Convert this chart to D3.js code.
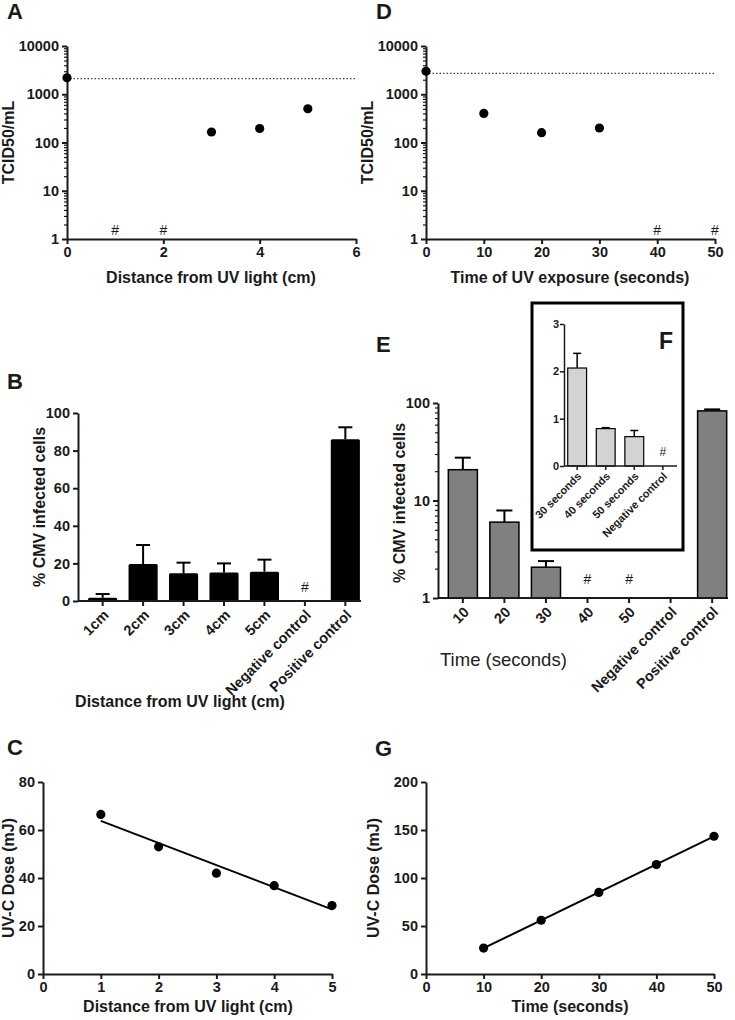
<!DOCTYPE html>
<html><head><meta charset="utf-8">
<script src="https://cdn.jsdelivr.net/npm/d3@7"></script>
<style>
body{margin:0;background:#fff;}
svg{display:block;font-family:"Liberation Sans",Arial,sans-serif;}
</style></head>
<body><svg id="c" width="735" height="1020"></svg>
<script>
// ---------- DATA ----------
// Panel A
const distA = [0, 3, 4, 5];
const tcidA = [2200, 165, 195, 500];
const hashA = [1, 2];
const limitA = 2100;
const xTicksA = [0, 2, 4, 6];
// Panel D
const timeD = [0, 10, 20, 30];
const tcidD = [3000, 400, 160, 200];
const hashD = [40, 50];
const limitD = 2700;
const xTicksD = [0, 10, 20, 30, 40, 50];
const logTicks = [1, 10, 100, 1000, 10000];
// Panel B
const catsB = ["1cm", "2cm", "3cm", "4cm", "5cm", "Negative control", "Positive control"];
const meanB = [1.7, 19.7, 14.7, 15.1, 15.6, 0.4, 86];
const errTopB = [3.7, 29.8, 20.4, 20, 22, 0.4, 92.4];
const hashB = ["Negative control"];
const yTicksB = [0, 20, 40, 60, 80, 100];
// Panel E
const catsE = ["10", "20", "30", "40", "50", "Negative control", "Positive control"];
const meanE = [20.7, 6.0, 2.07, null, null, null, 83];
const errTopE = [27.5, 7.9, 2.39, null, null, null, 86];
const hashE = ["40", "50"];
const yTicksE = [1, 10, 100];
// Panel F (inset)
const catsF = ["30 seconds", "40 seconds", "50 seconds", "Negative control"];
const meanF = [2.07, 0.79, 0.62, null];
const errTopF = [2.38, 0.81, 0.75, null];
const hashF = ["Negative control"];
const yTicksF = [0, 1, 2, 3];
// Panel C
const distC = [1, 2, 3, 4, 5];
const doseC = [66.5, 53, 42, 36.8, 28.5];
const xTicksC = [0, 1, 2, 3, 4, 5];
const yTicksC = [0, 20, 40, 60, 80];
// Panel G
const timeG = [10, 20, 30, 40, 50];
const doseG = [27, 56, 85, 114, 143.5];
const xTicksG = [0, 10, 20, 30, 40, 50];
const yTicksG = [0, 50, 100, 150, 200];

// ---------- HELPERS ----------
const svg = d3.select("#c");
const INK = "#1a1a1a";
const TICKFS = "14.5px";
const TITLEFS = "16px";
const fmt = d3.format("d");

function styleAxis(g, fs) {
  g.select(".domain").attr("stroke", INK).attr("stroke-width", 2);
  g.selectAll(".tick line").attr("stroke", INK).attr("stroke-width", 2);
  g.selectAll(".tick text").attr("fill", INK).attr("font-size", fs || TICKFS)
    .attr("font-weight", "bold").attr("font-family", "'Liberation Sans',Arial,sans-serif");
}
function letter(t, x, y, fs) {
  svg.append("text").attr("x", x).attr("y", y).text(t)
    .attr("font-size", fs || "22px").attr("font-weight", "bold").attr("fill", INK);
}
function yTitle(t, x, cy) {
  svg.append("text").attr("transform", `translate(${x},${cy}) rotate(-90)`)
    .attr("text-anchor", "middle").attr("font-size", TITLEFS).attr("font-weight", "bold")
    .attr("fill", INK).text(t);
}
function xTitle(t, cx, y) {
  svg.append("text").attr("x", cx).attr("y", y).attr("text-anchor", "middle")
    .attr("font-size", TITLEFS).attr("font-weight", "bold").attr("fill", INK).text(t);
}
function minorLog(y, x0, lo, hi) {
  const minors = [];
  for (let d = lo; d < hi; d *= 10) for (let k = 2; k <= 9; k++) minors.push(d * k);
  const g = svg.append("g").attr("transform", `translate(${x0},0)`)
    .call(d3.axisLeft(y).tickValues(minors).tickSize(3).tickFormat(""));
  g.select(".domain").remove();
  g.selectAll(".tick line").attr("stroke", INK).attr("stroke-width", 1.2);
}

// ---------- PANEL A / D (log scatter) ----------
function logScatter(xDom, xRange, xTicks, xs, vals, hashes, limit, titleX, cxTitle, yTitleX) {
  const x = d3.scaleLinear().domain(xDom).range(xRange);
  const y = d3.scaleLog().domain([1, 10000]).range([239, 46]);
  minorLog(y, xRange[0], 1, 10000);
  const gy = svg.append("g").attr("transform", `translate(${xRange[0]},0)`)
    .call(d3.axisLeft(y).tickValues(logTicks).tickFormat(fmt).tickSize(5).tickSizeOuter(0));
  styleAxis(gy);
  const gx = svg.append("g").attr("transform", `translate(0,${y(1)})`)
    .call(d3.axisBottom(x).tickValues(xTicks).tickFormat(fmt).tickSize(5).tickSizeOuter(0));
  styleAxis(gx);
  svg.append("line").attr("x1", xRange[0] + 3).attr("x2", xRange[1])
    .attr("y1", y(limit)).attr("y2", y(limit))
    .attr("stroke", "#444").attr("stroke-width", 1.2).attr("stroke-dasharray", "1.5,2");
  svg.selectAll(null).data(xs).enter().append("circle")
    .attr("cx", (d) => x(d)).attr("cy", (d, i) => y(vals[i])).attr("r", 4.6).attr("fill", "#000");
  svg.selectAll(null).data(hashes).enter().append("text")
    .attr("x", (d) => x(d)).attr("y", y(1) - 4).attr("text-anchor", "middle")
    .attr("font-size", "14px").attr("fill", INK).text("#");
  xTitle(titleX, cxTitle, 283);
  yTitle("TCID50/mL", yTitleX, y(100));
}
letter("A", 7, 19);
logScatter([0, 6], [67, 356], xTicksA, distA, tcidA, hashA, limitA, "Distance from UV light (cm)", 211, 14);
letter("D", 376, 19);
logScatter([0, 50], [426, 715], xTicksD, timeD, tcidD, hashD, limitD, "Time of UV exposure (seconds)", 570, 373);

// ---------- PANEL B ----------
(function () {
  letter("B", 7, 389);
  const x = d3.scaleBand().domain(catsB).range([80, 368]).paddingInner(0.28).paddingOuter(0.2);
  const y = d3.scaleLinear().domain([0, 100]).range([601, 413]);
  const gy = svg.append("g").attr("transform", "translate(78,0)")
    .call(d3.axisLeft(y).tickValues(yTicksB).tickFormat(fmt).tickSize(5).tickSizeOuter(0));
  styleAxis(gy);
  const bw = x.bandwidth();
  catsB.forEach((c, i) => {
    const cx = x(c) + bw / 2;
    if (errTopB[i] > meanB[i]) {
      svg.append("line").attr("x1", cx).attr("x2", cx).attr("y1", y(meanB[i])).attr("y2", y(errTopB[i]))
        .attr("stroke", "#000").attr("stroke-width", 2);
      svg.append("line").attr("x1", cx - 7).attr("x2", cx + 7).attr("y1", y(errTopB[i])).attr("y2", y(errTopB[i]))
        .attr("stroke", "#000").attr("stroke-width", 2);
    }
  });
  svg.selectAll(null).data(catsB).enter().append("rect")
    .attr("x", (d) => x(d)).attr("width", bw)
    .attr("y", (d, i) => y(meanB[i])).attr("height", (d, i) => y(0) - y(meanB[i]))
    .attr("fill", "#000").attr("rx", 1.5);
  const gx = svg.append("g").attr("transform", `translate(0,${y(0)})`)
    .call(d3.axisBottom(x).tickSize(5).tickSizeOuter(0));
  gx.select(".domain").attr("d", `M78,0H361`);
  styleAxis(gx, "14.5px");
  gx.selectAll(".tick text").attr("text-anchor", "end").attr("dy", 0)
    .attr("transform", "translate(7,15) rotate(-45)").attr("y", 0).attr("x", 0);
  svg.selectAll(null).data(hashB).enter().append("text")
    .attr("x", (d) => x(d) + bw / 2).attr("y", y(0) - 9).attr("text-anchor", "middle")
    .attr("font-size", "14px").attr("fill", INK).text("#");
  yTitle("% CMV infected cells", 45, 507);
  xTitle("Distance from UV light (cm)", 180, 707);
})();

// ---------- PANEL E ----------
(function () {
  letter("E", 376, 352);
  const x = d3.scaleBand().domain(catsE).range([440, 735]).paddingInner(0.3).paddingOuter(0.2);
  const y = d3.scaleLog().domain([1, 100]).range([598, 403]);
  minorLog(y, 438, 1, 100);
  const gy = svg.append("g").attr("transform", "translate(438,0)")
    .call(d3.axisLeft(y).tickValues(yTicksE).tickFormat(fmt).tickSize(5).tickSizeOuter(0));
  styleAxis(gy);
  const bw = x.bandwidth();
  catsE.forEach((c, i) => {
    if (meanE[i] == null) return;
    const cx = x(c) + bw / 2;
    svg.append("line").attr("x1", cx).attr("x2", cx).attr("y1", y(meanE[i])).attr("y2", y(errTopE[i]))
      .attr("stroke", "#000").attr("stroke-width", 2);
    svg.append("line").attr("x1", cx - 8).attr("x2", cx + 8).attr("y1", y(errTopE[i])).attr("y2", y(errTopE[i]))
      .attr("stroke", "#000").attr("stroke-width", 2);
  });
  const withBars = catsE.filter((c, i) => meanE[i] != null);
  svg.selectAll(null).data(withBars).enter().append("rect")
    .attr("x", (d) => x(d)).attr("width", bw)
    .attr("y", (d) => y(meanE[catsE.indexOf(d)]))
    .attr("height", (d) => y(1) - y(meanE[catsE.indexOf(d)]))
    .attr("fill", "#808080").attr("stroke", "#000").attr("stroke-width", 1.5);
  const gx = svg.append("g").attr("transform", `translate(0,${y(1)})`)
    .call(d3.axisBottom(x).tickSize(5).tickSizeOuter(0));
  gx.select(".domain").attr("d", `M438,0H728`);
  styleAxis(gx, "14.5px");
  gx.selectAll(".tick text").attr("text-anchor", "end").attr("dy", 0)
    .attr("transform", "translate(7,15) rotate(-45)").attr("y", 0).attr("x", 0);
  svg.selectAll(null).data(hashE).enter().append("text")
    .attr("x", (d) => x(d) + bw / 2).attr("y", y(1) - 14).attr("text-anchor", "middle")
    .attr("font-size", "14px").attr("fill", INK).text("#");
  yTitle("% CMV infected cells", 405, 503);
  svg.append("text").attr("x", 440).attr("y", 666).attr("font-size", "18.5px")
    .attr("fill", "#222").text("Time (seconds)");

  // ---- inset F ----
  svg.append("rect").attr("x", 532).attr("y", 303).attr("width", 151).attr("height", 247)
    .attr("fill", "#fff").attr("stroke", "#000").attr("stroke-width", 3);
  letter("F", 659, 349, "23px");
  const xf = d3.scaleBand().domain(catsF).range([562, 678]).paddingInner(0.34).paddingOuter(0.2);
  const yf = d3.scaleLinear().domain([0, 3]).range([466, 324]);
  const gyf = svg.append("g").attr("transform", "translate(564,0)")
    .call(d3.axisLeft(yf).tickValues(yTicksF).tickFormat(fmt).tickSize(4).tickSizeOuter(0));
  styleAxis(gyf, "11px");
  gyf.select(".domain").attr("stroke-width", 1.5);
  gyf.selectAll(".tick line").attr("stroke-width", 1.5);
  gyf.selectAll(".tick text").attr("x", -5);
  const bwf = xf.bandwidth();
  catsF.forEach((c, i) => {
    if (meanF[i] == null) return;
    const cx = xf(c) + bwf / 2;
    svg.append("line").attr("x1", cx).attr("x2", cx).attr("y1", yf(meanF[i])).attr("y2", yf(errTopF[i]))
      .attr("stroke", "#000").attr("stroke-width", 1.5);
    svg.append("line").attr("x1", cx - 4).attr("x2", cx + 4).attr("y1", yf(errTopF[i])).attr("y2", yf(errTopF[i]))
      .attr("stroke", "#000").attr("stroke-width", 1.5);
  });
  const withBarsF = catsF.filter((c, i) => meanF[i] != null);
  svg.selectAll(null).data(withBarsF).enter().append("rect")
    .attr("x", (d) => xf(d)).attr("width", bwf)
    .attr("y", (d) => yf(meanF[catsF.indexOf(d)]))
    .attr("height", (d) => yf(0) - yf(meanF[catsF.indexOf(d)]))
    .attr("fill", "#d3d3d3").attr("stroke", "#000").attr("stroke-width", 1.2);
  const gxf = svg.append("g").attr("transform", `translate(0,${yf(0)})`)
    .call(d3.axisBottom(xf).tickSize(4).tickSizeOuter(0));
  gxf.select(".domain").attr("d", "M564,0H677");
  styleAxis(gxf, "11px");
  gxf.select(".domain").attr("stroke-width", 1.5);
  gxf.selectAll(".tick line").attr("stroke-width", 1.5);
  gxf.selectAll(".tick text").attr("text-anchor", "end").attr("dy", 0)
    .attr("transform", "translate(5,11) rotate(-45)").attr("y", 0).attr("x", 0);
  svg.selectAll(null).data(hashF).enter().append("text")
    .attr("x", (d) => xf(d) + bwf / 2).attr("y", yf(0) - 10).attr("text-anchor", "middle")
    .attr("font-size", "12px").attr("fill", INK).text("#");
})();

// ---------- PANEL C / G (linear with fit) ----------
function linPanel(xDom, xRange, yDom, xTicks, yTicks, xs, ys, xT, cxT, yTX) {
  const x = d3.scaleLinear().domain(xDom).range(xRange);
  const y = d3.scaleLinear().domain(yDom).range([974, 782]);
  const gy = svg.append("g").attr("transform", `translate(${xRange[0]},0)`)
    .call(d3.axisLeft(y).tickValues(yTicks).tickFormat(fmt).tickSize(5).tickSizeOuter(0));
  styleAxis(gy);
  const gx = svg.append("g").attr("transform", `translate(0,${y(yDom[0])})`)
    .call(d3.axisBottom(x).tickValues(xTicks).tickFormat(fmt).tickSize(5).tickSizeOuter(0));
  styleAxis(gx);
  // least squares fit from the data
  const mx = d3.mean(xs), my = d3.mean(ys);
  const slope = d3.sum(xs, (v, i) => (v - mx) * (ys[i] - my)) / d3.sum(xs, (v) => (v - mx) ** 2);
  const icpt = my - slope * mx;
  const x0 = d3.min(xs), x1 = d3.max(xs);
  svg.append("line").attr("x1", x(x0)).attr("x2", x(x1))
    .attr("y1", y(icpt + slope * x0)).attr("y2", y(icpt + slope * x1))
    .attr("stroke", "#000").attr("stroke-width", 2);
  svg.selectAll(null).data(xs).enter().append("circle")
    .attr("cx", (d) => x(d)).attr("cy", (d, i) => y(ys[i])).attr("r", 4.6).attr("fill", "#000");
  xTitle(xT, cxT, 1012);
  yTitle("UV-C Dose (mJ)", yTX, 878);
}
letter("C", 7, 755);
linPanel([0, 5], [43, 332], [0, 80], xTicksC, yTicksC, distC, doseC, "Distance from UV light (cm)", 188, 14);
letter("G", 375, 756);
linPanel([0, 50], [426, 714], [0, 200], xTicksG, yTicksG, timeG, doseG, "Time (seconds)", 570, 379);
</script></body></html>
